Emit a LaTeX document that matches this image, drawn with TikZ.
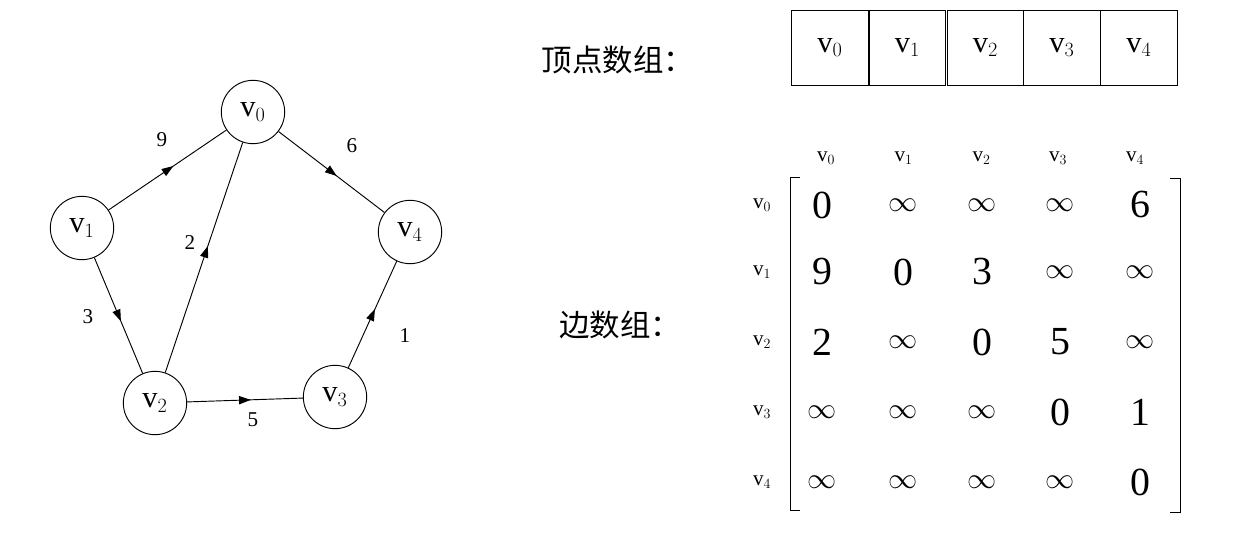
\documentclass[tikz,border=0pt]{standalone}
\usepackage{fontspec}
\setmainfont{Liberation Serif}
\newfontfamily\cjk{Noto Sans CJK SC}
\usetikzlibrary{decorations.markings,arrows.meta}
\begin{document}
\begin{tikzpicture}[x=0.03cm,y=-0.03cm,
  vert/.style={circle,draw,thick,minimum size=1.9cm,inner sep=0pt,font=\fontsize{26}{26}\selectfont},
  edge/.style={thick,postaction={decorate},decoration={markings,mark=at position 0.55 with {\arrow{Triangle[length=10pt,width=7pt]}}}},
  wlab/.style={font=\fontsize{18}{18}\selectfont},
  cell/.style={draw,thick,minimum width=2.3cm,minimum height=2.25cm,inner sep=0pt,font=\fontsize{26}{26}\selectfont},
  hdr/.style={font=\fontsize{18}{18}\selectfont},
  ent/.style={font=\fontsize{34}{34}\selectfont},
  lbl/.style={font=\cjk\fontsize{26}{26}\selectfont}]
\useasboundingbox (0,0) rectangle (1237,535);
\node[vert] (v0) at (253,112) {v$_0$};
\node[vert] (v1) at (82,228) {v$_1$};
\node[vert] (v4) at (410,232) {v$_4$};
\node[vert] (v2) at (155,403) {v$_2$};
\node[vert] (v3) at (335,397) {v$_3$};
\draw[edge] (v1) -- (v0);
\draw[edge] (v0) -- (v4);
\draw[edge] (v1) -- (v2);
\draw[edge] (v2) -- (v0);
\draw[edge] (v2) -- (v3);
\draw[edge] (v3) -- (v4);
\node[wlab] (w9) at (162,140) {9};
\node[wlab] (w6) at (352,146) {6};
\node[wlab] (w3) at (88,317) {3};
\node[wlab] (w2) at (190,243) {2};
\node[wlab] (w5) at (253,420) {5};
\node[wlab] (w1) at (405,336) {1};
\node[lbl] (t1) at (618,60) {顶点数组：};
\node[lbl] (t2) at (620,325) {边数组：};
\foreach \i/\x in {0/830,1/907.5,2/985.5,3/1062,4/1139}{
  \node[cell] (c\i) at (\x,47.5) {v$_{\i}$};
  \node[hdr] (h\i) at (\x-4,158) {v$_{\i}$};
}
\foreach \i/\y in {0/205,1/272,2/342,3/412,4/482}{
  \node[hdr] (r\i) at (762,\y) {v$_{\i}$};
}
\foreach \r/\y/\a/\b/\c/\d/\e in {
 0/205/0/$\infty$/$\infty$/$\infty$/6,
 1/272/9/0/3/$\infty$/$\infty$,
 2/342/2/$\infty$/0/5/$\infty$,
 3/412/$\infty$/$\infty$/$\infty$/0/1,
 4/482/$\infty$/$\infty$/$\infty$/$\infty$/0}{
  \node[ent] (m\r a) at (822,\y) {\a};
  \node[ent] (m\r b) at (903,\y) {\b};
  \node[ent] (m\r c) at (982,\y) {\c};
  \node[ent] (m\r d) at (1060,\y) {\d};
  \node[ent] (m\r e) at (1140,\y) {\e};
}
\coordinate (lb1) at (800,177); \coordinate (lb2) at (790,177);
\coordinate (lb3) at (790,510); \coordinate (lb4) at (800,510);
\draw[thick] (lb1) -- (lb2) -- (lb3) -- (lb4);
\coordinate (rb1) at (1170,178); \coordinate (rb2) at (1180,178);
\coordinate (rb3) at (1180,512); \coordinate (rb4) at (1170,512);
\draw[thick] (rb1) -- (rb2) -- (rb3) -- (rb4);
\end{tikzpicture}
\end{document}
